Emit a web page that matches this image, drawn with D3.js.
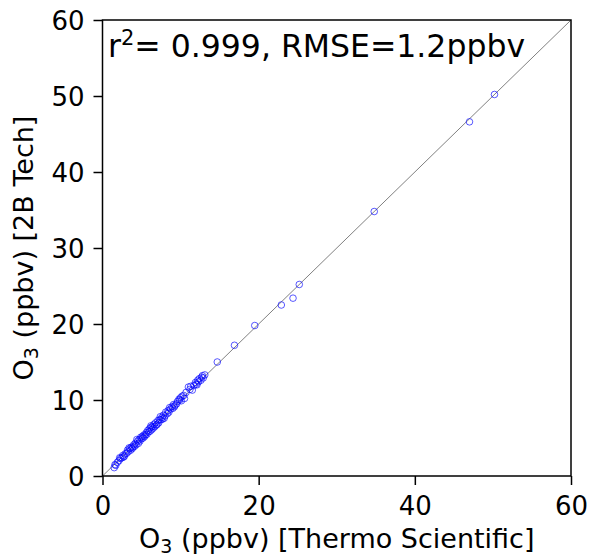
<!DOCTYPE html>
<html>
<head>
<meta charset="utf-8">
<script src="https://cdn.jsdelivr.net/npm/d3@7"></script>
<style>
  body { margin: 0; background: #fff; }
  text { font-family: "DejaVu Sans", sans-serif; }
</style>
</head>
<body>
<div id="chart"></div>
<script>
// Thermo Scientific (x) vs 2B Tech (y), ppbv
const thermo = [
  1.5, 1.7, 1.9, 2.1, 2.3, 2.5, 2.6, 2.8, 2.9, 3.1, 3.2, 3.3, 3.5, 3.6, 3.7, 3.8, 4.0, 4.1,
  4.2, 4.3, 4.5, 4.6, 4.7, 4.8, 4.9, 5.0, 5.1, 5.2, 5.3, 5.5, 5.6, 5.7, 5.8, 5.9, 6.0, 6.1,
  6.2, 6.3, 6.4, 6.5, 6.6, 6.7, 6.8, 7.0, 7.1, 7.2, 7.3, 7.5, 7.6, 7.7, 7.8, 8.0, 8.1, 8.3,
  8.4, 8.5, 8.7, 8.9, 9.0, 9.1, 9.3, 9.5, 9.6, 9.8, 10.0, 10.1, 10.2, 10.4, 10.7, 11.0, 11.2,
  11.5, 11.7, 11.9, 12.0, 12.2, 12.3, 12.4, 12.6, 12.7, 12.9, 13.1,
  1.6, 2.2, 2.7, 3.4, 3.9, 4.4, 5.4, 6.2, 6.9, 7.4, 7.9, 8.6, 9.2, 9.9, 10.5, 11.3, 12.1, 12.8,
  14.7, 16.9, 19.5, 22.9, 24.4, 25.2, 34.8, 47.0, 50.2
];
const twoB = [
  1.1, 1.4, 1.8, 2.0, 2.3, 2.4, 2.7, 2.6, 2.9, 3.0, 3.4, 3.2, 3.6, 3.4, 3.8, 3.6, 4.1, 3.9,
  4.3, 4.1, 4.6, 4.3, 4.8, 4.6, 5.1, 4.9, 5.2, 5.0, 5.4, 5.4, 5.7, 5.5, 6.0, 5.8, 6.2, 5.9,
  6.4, 6.1, 6.5, 6.3, 6.8, 6.5, 7.0, 6.8, 7.3, 7.0, 7.4, 7.4, 7.7, 7.5, 8.0, 7.9, 8.4, 8.2,
  8.6, 8.4, 8.8, 9.1, 8.9, 9.4, 9.3, 9.5, 9.8, 10.1, 10.3, 9.9, 10.5, 10.6, 11.0, 11.7, 11.4,
  11.3, 11.9, 12.3, 12.1, 12.6, 12.4, 12.8, 12.6, 13.0, 12.9, 13.3,
  1.5, 2.4, 2.5, 3.7, 3.8, 4.8, 5.2, 6.6, 6.7, 7.8, 7.6, 9.0, 9.1, 10.0, 10.2, 11.8, 12.0, 13.2,
  15.0, 17.2, 19.8, 22.5, 23.4, 25.2, 34.8, 46.6, 50.2
];
const xTicks = [0, 20, 40, 60];
const yTicks = [0, 10, 20, 30, 40, 50, 60];
const annotation = "0.999, RMSE=1.2ppbv";

const width = 590, height = 560;
const margin = { top: 20, right: 19, bottom: 84, left: 102.5 };

const svg = d3.select("#chart").append("svg")
  .attr("width", width)
  .attr("height", height);

const x = d3.scaleLinear().domain([0, 60]).range([margin.left, width - margin.right]);
const y = d3.scaleLinear().domain([0, 60]).range([height - margin.bottom, margin.top]);

// 1:1 line
svg.append("line")
  .attr("x1", x(0)).attr("y1", y(0))
  .attr("x2", x(60)).attr("y2", y(60))
  .attr("stroke", "#808080")
  .attr("stroke-width", 1);

// points
const data = thermo.map((d, i) => ({ x: d, y: twoB[i] }));
svg.append("g").selectAll("circle")
  .data(data)
  .enter()
  .append("circle")
  .attr("cx", d => x(d.x))
  .attr("cy", d => y(d.y))
  .attr("r", 3.3)
  .attr("fill", "none")
  .attr("stroke", "#0000ff")
  .attr("stroke-opacity", 0.65)
  .attr("stroke-width", 1);

// axes
const xAxis = svg.append("g")
  .attr("transform", `translate(0,${height - margin.bottom})`)
  .call(d3.axisBottom(x).tickValues(xTicks).tickSize(9).tickSizeOuter(0).tickPadding(12));
const yAxis = svg.append("g")
  .attr("transform", `translate(${margin.left},0)`)
  .call(d3.axisLeft(y).tickValues(yTicks).tickSize(9).tickSizeOuter(0).tickPadding(9));

[xAxis, yAxis].forEach(g => {
  g.select(".domain").remove();
  g.selectAll("line").attr("stroke", "#000").attr("stroke-width", 1.5);
  g.selectAll("text")
    .attr("fill", "#000")
    .style("font-size", "26px")
    .style("font-family", "DejaVu Sans, sans-serif");
});
yAxis.selectAll("text").attr("dy", "0.36em");

// frame
svg.append("rect")
  .attr("x", margin.left)
  .attr("y", margin.top)
  .attr("width", x(60) - x(0))
  .attr("height", y(0) - y(60))
  .attr("fill", "none")
  .attr("stroke", "#000")
  .attr("stroke-width", 1.5);

// axis labels
const xLabel = svg.append("text")
  .attr("x", (x(0) + x(60)) / 2)
  .attr("y", 548)
  .attr("text-anchor", "middle")
  .style("font-size", "27px");
xLabel.append("tspan").text("O");
xLabel.append("tspan").attr("dy", 5).style("font-size", "19px").text("3");
xLabel.append("tspan").attr("dy", -5).text(" (ppbv) [Thermo Scientific]");

const yLabel = svg.append("text")
  .attr("transform", `translate(33,${(y(0) + y(60)) / 2}) rotate(-90)`)
  .attr("text-anchor", "middle")
  .style("font-size", "27px");
yLabel.append("tspan").text("O");
yLabel.append("tspan").attr("dy", 5).style("font-size", "19px").text("3");
yLabel.append("tspan").attr("dy", -5).text(" (ppbv) [2B Tech]");

// annotation
const note = svg.append("text")
  .attr("x", 108)
  .attr("y", 57)
  .style("font-size", "31.5px");
note.append("tspan").text("r");
note.append("tspan").attr("dy", -12).style("font-size", "21px").text("2");
note.append("tspan").attr("dy", 12).text("= " + annotation);
</script>
</body>
</html>
